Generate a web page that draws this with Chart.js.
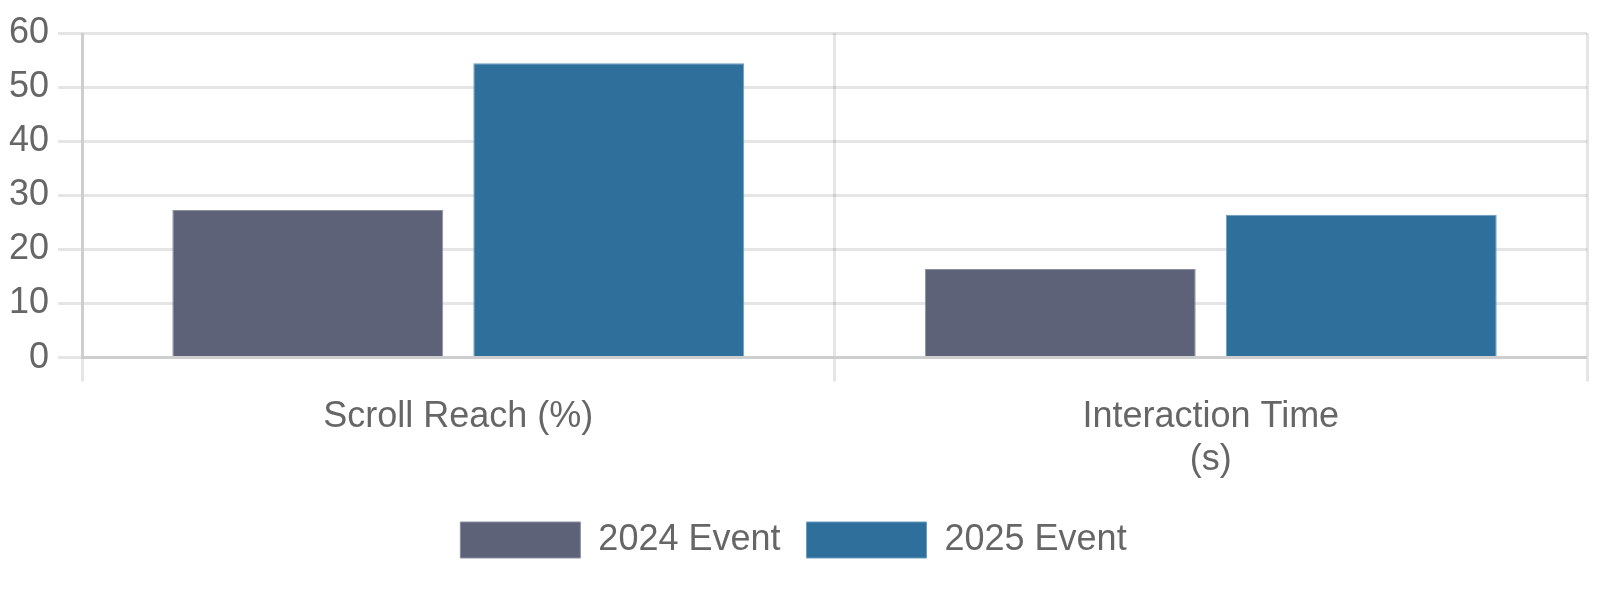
<!DOCTYPE html>
<html>
<head>
<meta charset="utf-8">
<script src="https://cdn.jsdelivr.net/npm/chart.js@4/dist/chart.umd.min.js"></script>
<style>
  html, body { margin: 0; padding: 0; background: #fff; }
  #wrap { width: 1600px; height: 607px; position: relative; }
</style>
</head>
<body>
<div id="wrap"><canvas id="chart"></canvas></div>
<script>
// chart data
const categories = ["Scroll Reach (%)", ["Interaction Time", "(s)"]];
const seriesNames = ["2024 Event", "2025 Event"];
const event2024 = [27.3, 16.4];
const event2025 = [54.4, 26.4];
const yMin = 0;
const yMax = 60;
const yStep = 10;

// everything drawn at 3x scale
const S = 3;
const gridColor = "rgba(0,0,0,0.1)";

Chart.defaults.font.family = "'Liberation Sans', Arial, Helvetica, sans-serif";
Chart.defaults.font.size = 12 * S;
Chart.defaults.color = "#666";

const ctx = document.getElementById("chart").getContext("2d");
new Chart(ctx, {
  type: "bar",
  data: {
    labels: categories,
    datasets: [
      {
        label: seriesNames[0],
        data: event2024,
        backgroundColor: "#5d6278",
        borderColor: "#8a8fa0",
        borderWidth: 1,
      },
      {
        label: seriesNames[1],
        data: event2025,
        backgroundColor: "#2e6f9c",
        borderColor: "#6a9cc0",
        borderWidth: 1,
      },
    ],
  },
  options: {
    responsive: true,
    maintainAspectRatio: false,
    animation: false,
    layout: { padding: { top: 33, left: 0, right: 13, bottom: 39 } },
    plugins: {
      legend: {
        position: "bottom",
        labels: {
          boxWidth: 40 * S,
          boxHeight: 12 * S,
          padding: 26,
        },
      },
      tooltip: { enabled: false },
    },
    scales: {
      x: {
        grid: { color: gridColor, lineWidth: S, tickLength: 8 * S, tickWidth: S },
        border: { color: gridColor, width: S },
        ticks: { padding: 14, maxRotation: 0 },
      },
      y: {
        min: yMin,
        max: yMax,
        ticks: { stepSize: yStep, padding: 3 * S },
        grid: { color: gridColor, lineWidth: S, tickLength: 8 * S, tickWidth: S },
        border: { color: gridColor, width: S },
      },
    },
  },
});
</script>
</body>
</html>
